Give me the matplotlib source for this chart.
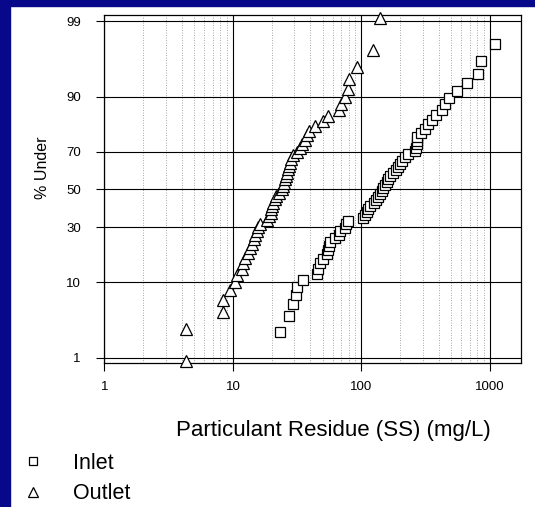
"""
Probability plot: SS residue at inlet vs outlet (log x, normal-probability y).
"""
from statistics import NormalDist

import matplotlib
matplotlib.use("Agg")  # headless
import matplotlib.pyplot as plt
import numpy as np
from matplotlib.patches import Rectangle
from matplotlib.ticker import FixedLocator, FuncFormatter, LogLocator, NullLocator

plt.rcParams["font.family"] = ["Liberation Sans", "DejaVu Sans"]

# ── data ─────────────────────────────────────────────────────────────────────
inlet_ss = [23.2, 27.4, 29.3, 30.8, 31.5, 35.3, 44.8, 46.1, 47.5, 49.9,
            53.6, 55.2, 55.9, 56.9, 62, 66.8, 68, 74.4, 76.4, 78.9,
            103, 106, 110, 112, 116, 125, 131, 136, 139, 144,
            148, 152, 157, 161, 167, 176, 185, 193, 199, 206,
            218, 231, 261, 268, 269, 270, 273, 294, 312, 331,
            352, 380, 421, 446, 482, 557, 659, 811, 861, 1094]
inlet_pct = [2.4, 4.0, 5.6, 7.2, 8.9, 10.5, 12.1, 13.7, 15.3, 16.9,
             18.6, 20.2, 21.8, 23.4, 25.0, 26.6, 28.3, 29.9, 31.5, 33.1,
             34.7, 36.3, 38.0, 39.6, 41.2, 42.8, 44.4, 46.0, 47.7, 49.3,
             50.9, 52.5, 54.1, 55.7, 57.4, 59.0, 60.6, 62.2, 63.8, 65.4,
             67.1, 68.7, 70.3, 71.9, 73.5, 75.1, 76.8, 78.4, 80.0, 81.6,
             83.2, 84.8, 86.5, 88.1, 89.7, 91.3, 92.9, 94.5, 96.2, 97.8]

outlet_ss = [4.3, 4.3, 8.4, 8.4, 9.5, 10.4, 10.8, 11.7, 11.9, 12.4,
             13.1, 13.6, 14.2, 14.6, 14.8, 15.3, 15.7, 16.2, 18.3, 19.1,
             19.8, 19.9, 20.1, 20.6, 21.2, 21.8, 22.8, 23.9, 24.5, 24.9,
             25.4, 26.1, 26.6, 27.0, 27.5, 27.8, 28.3, 29.3, 31.3, 33.2,
             34.3, 36.3, 37.5, 39.3, 43.5, 50, 55, 67, 70, 74,
             79, 80, 93, 124, 139]
outlet_pct = [0.9, 2.7, 4.5, 6.4, 8.2, 10.0, 11.8, 13.6, 15.5, 17.3,
              19.1, 20.9, 22.7, 24.5, 26.4, 28.2, 30.0, 31.8, 33.6, 35.5,
              37.3, 39.1, 40.9, 42.7, 44.5, 46.4, 48.2, 50.0, 51.8, 53.6,
              55.5, 57.3, 59.1, 60.9, 62.7, 64.5, 66.4, 68.2, 70.0, 71.8,
              73.6, 75.5, 77.3, 79.1, 80.9, 82.7, 84.5, 86.4, 88.2, 90.0,
              91.8, 93.6, 95.5, 97.3, 99.1]

y_ticks = [1, 10, 30, 50, 70, 90, 99]
x_ticks = [1, 10, 100, 1000]

# ── normal-probability scale ─────────────────────────────────────────────────
_nd = NormalDist()
_ppf = np.vectorize(lambda v: _nd.inv_cdf(v), otypes=[float])
_cdf = np.vectorize(lambda v: _nd.cdf(v), otypes=[float])


def pct_to_z(p):
    p = np.clip(np.asarray(p, dtype=float), 1e-6, 100 - 1e-6)
    return _ppf(p / 100.0)


def z_to_pct(z):
    return _cdf(np.asarray(z, dtype=float)) * 100.0


fig = plt.figure(figsize=(5.35, 5.07), dpi=100)
fig.patch.set_facecolor("white")
# dark blue slide border (left and top)
fig.patches.append(Rectangle((0, 0), 0.018, 1, transform=fig.transFigure,
                             color="#08088a", zorder=0))
fig.patches.append(Rectangle((0, 0.988), 1, 0.012, transform=fig.transFigure,
                             color="#08088a", zorder=0))

ax = fig.add_axes([0.1953, 0.2834, 0.7785, 0.687])
ax.set_xscale("log")
ax.set_yscale("function", functions=(pct_to_z, z_to_pct))
ax.set_xlim(1, 1750)
ax.set_ylim(0.81, 99.21)

ax.plot(inlet_ss, inlet_pct, ls="none", marker="s", ms=7.2, mfc="white",
        mec="black", mew=0.9, clip_on=False, zorder=3, label="Inlet")
ax.plot(outlet_ss, outlet_pct, ls="none", marker="^", ms=8, mfc="white",
        mec="black", mew=0.9, clip_on=False, zorder=3, label="Outlet")

ax.yaxis.set_major_locator(FixedLocator(y_ticks))
ax.yaxis.set_major_formatter(FuncFormatter(lambda v, _: f"{v:g}"))
ax.yaxis.set_minor_locator(NullLocator())
ax.xaxis.set_major_locator(FixedLocator(x_ticks))
ax.xaxis.set_major_formatter(FuncFormatter(lambda v, _: f"{v:g}"))
ax.xaxis.set_minor_locator(LogLocator(base=10, subs=np.arange(2, 10)))

ax.grid(True, which="major", color="black", lw=0.8)
ax.grid(True, which="minor", axis="x", color="0.55", lw=0.6, ls=(0, (1, 2)))
ax.set_axisbelow(True)

ax.tick_params(axis="both", which="major", direction="out", length=6,
               width=0.8, labelsize=9.5)
ax.tick_params(axis="x", which="major", pad=7)
ax.tick_params(axis="y", which="major", pad=11)
ax.tick_params(axis="x", which="minor", length=0)
for s in ax.spines.values():
    s.set_linewidth(0.9)

ax.set_ylabel("% Under", fontsize=11.5)
ax.yaxis.set_label_coords(-0.13, 0.561)
ax.set_xlabel("Particulant Residue (SS) (mg/L)", fontsize=16)
ax.xaxis.set_label_coords(0.549, -0.163)

fig.legend(loc="upper left", bbox_to_anchor=(0.041, 0.107), frameon=False,
           fontsize=15.5, handlelength=1.0, handletextpad=1.35,
           labelspacing=0.44, borderpad=0, borderaxespad=0, markerscale=0.85)

fig.savefig("out.png", dpi=100, facecolor=fig.get_facecolor())
